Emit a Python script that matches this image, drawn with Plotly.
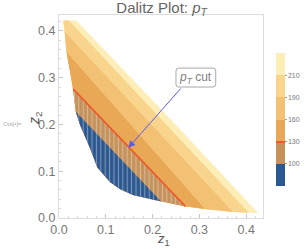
import plotly.graph_objects as go

# ---- data ----
# lower-left boundary of the Dalitz region (starts at the top-right corner of the flat top edge)
chain_z1 = [0.037, 0.009, 0.012, 0.016, 0.026, 0.030, 0.036, 0.045, 0.066, 0.082, 0.109, 0.130, 0.158, 0.216, 0.269, 0.312, 0.344, 0.372, 0.405, 0.426]
chain_z2 = [0.422, 0.422, 0.398, 0.355, 0.301, 0.276, 0.227, 0.199, 0.150, 0.108, 0.077, 0.062, 0.049, 0.036, 0.025, 0.019, 0.0156, 0.013, 0.011, 0.010]
# upper-right boundary (from bottom tip back to top-right corner)
edge_z1 = [0.426, 0.245, 0.037]
edge_z2 = [0.010, 0.204, 0.422]

# contour levels and two points on each (straight) contour line
levels = [100, 130, 160, 190, 210]
line_a_z1 = [0.036, 0.030, 0.016, 0.012, 0.021]
line_a_z2 = [0.227, 0.276, 0.355, 0.398, 0.422]
line_b_z1 = [0.216, 0.271, 0.312, 0.372, 0.405]
line_b_z2 = [0.038, 0.024, 0.019, 0.013, 0.012]

band_colors = ["#2c5891", "#c6925a", "#e9a855", "#f3c173", "#f8d48d", "#fdedb7"]
cut_color = "#ee5a2c"
tick_labels = ["100", "130", "160", "190", "210"]

# ---- helpers ----
def side(p, q, r):
    return (q[0]-p[0])*(r[1]-p[1]) - (q[1]-p[1])*(r[0]-p[0])

def below_polygon(p, q):
    pts = list(zip(chain_z1, chain_z2))
    s = [side(p, q, c) for c in pts]
    poly = []
    for i in range(len(pts)-1):
        a, b = pts[i], pts[i+1]
        if s[i] < 0:
            poly.append(a)
        if (s[i] >= 0) != (s[i+1] >= 0):
            t = s[i] / (s[i] - s[i+1])
            poly.append((a[0] + t*(b[0]-a[0]), a[1] + t*(b[1]-a[1])))
    if s[-1] < 0:
        poly.append(pts[-1])
    return poly

fig = go.Figure()

# full region in the top band colour
reg_x = chain_z1 + edge_z1[1:]
reg_y = chain_z2 + edge_z2[1:]
fig.add_trace(go.Scatter(x=reg_x, y=reg_y, fill="toself", mode="lines",
                         line=dict(width=0), fillcolor=band_colors[5], hoverinfo="skip", showlegend=False))

# successive "below level" regions from top down
polys = {}
for k in range(len(levels)-1, -1, -1):
    p = (line_a_z1[k], line_a_z2[k]); q = (line_b_z1[k], line_b_z2[k])
    poly = below_polygon(p, q)
    polys[k] = poly
    fig.add_trace(go.Scatter(x=[a for a, _ in poly], y=[b for _, b in poly], fill="toself", mode="lines",
                             line=dict(width=0), fillcolor=band_colors[k], hoverinfo="skip", showlegend=False))

# hatching of the cut region (below 130)
cut_poly = polys[1]
fig.add_trace(go.Scatter(x=[a for a, _ in cut_poly], y=[b for _, b in cut_poly], fill="toself", mode="lines",
                         line=dict(width=0), fillcolor="rgba(0,0,0,0)",
                         fillpattern=dict(shape="|", fgcolor="rgba(236,236,236,0.85)", bgcolor="rgba(0,0,0,0)",
                                          size=4.4, solidity=0.25),
                         hoverinfo="skip", showlegend=False))

# the pT cut line (130 contour)
fig.add_trace(go.Scatter(x=[cut_poly[0][0], cut_poly[-1][0]], y=[cut_poly[0][1], cut_poly[-1][1]],
                         mode="lines", line=dict(color=cut_color, width=1.6), hoverinfo="skip", showlegend=False))

# colour bar
n = len(band_colors)
cs = []
for i, c in enumerate(band_colors):
    lo, hi = i/n, (i+1)/n
    if i == 2:
        cs += [[lo, cut_color], [lo+0.008, cut_color], [lo+0.008, c], [hi, c]]
    elif i == 1:
        cs += [[lo, c], [hi-0.008, c], [hi-0.008, cut_color], [hi, cut_color]]
    else:
        cs += [[lo, c], [hi, c]]
fig.add_trace(go.Scatter(x=[None], y=[None], mode="markers", showlegend=False, hoverinfo="skip",
                         marker=dict(color=[0], cmin=0, cmax=n, colorscale=cs, showscale=True,
                                     colorbar=dict(x=1.064, xanchor="left", y=0.158, yanchor="bottom",
                                                   len=0.655, lenmode="fraction", thickness=9,
                                                   xpad=0, ypad=0, outlinewidth=0,
                                                   tickvals=list(range(1, n)), ticktext=tick_labels,
                                                   ticks="outside", ticklen=2, tickcolor="#999",
                                                   tickfont=dict(size=7, color="#777")))))

gray = "#777777"
axis_common = dict(showgrid=False, zeroline=False, showline=True, mirror=True, linecolor="#dcdcdc",
                   linewidth=1, ticks="inside", ticklen=4, tickcolor="#c8c8c8", dtick=0.1, tick0=0,
                   tickformat=".1f", tickfont=dict(size=12.5, color=gray), automargin=False,
                   minor=dict(ticks="inside", ticklen=2, tickcolor="#d8d8d8", dtick=0.02))

fig.update_layout(
    width=305, height=249, margin=dict(l=59, r=42, t=15, b=31, autoexpand=False),
    paper_bgcolor="white", plot_bgcolor="white",
    font=dict(family="Liberation Sans, Arial, sans-serif", color=gray),
    title=dict(text="Dalitz Plot: <i>p</i><sub><i>T</i></sub>", x=0.53, xanchor="center", y=0.99, yanchor="top",
               font=dict(size=15, color="#666")),
    xaxis=dict(range=[0, 0.436], **axis_common),
    yaxis=dict(range=[0, 0.434], **axis_common),
)

# axis titles
fig.add_annotation(x=0.51, y=-0.1527, xref="paper", yref="paper", showarrow=False, yanchor="bottom",
                   text="<i>z</i><sub>1</sub>", font=dict(size=13, color="#555"), borderpad=0)
fig.add_annotation(x=-0.166, y=0.488, xref="paper", yref="paper", showarrow=False, textangle=-90,
                   text="<i>z</i><sub>2</sub>", font=dict(size=14, color="#555"), borderpad=0)

# label box with rounded corners
bx0, bx1, by0, by1, r = 0.250, 0.335, 0.280, 0.3205, 0.006
path = (f"M {bx0+r},{by0} L {bx1-r},{by0} Q {bx1},{by0} {bx1},{by0+r} L {bx1},{by1-r} Q {bx1},{by1} {bx1-r},{by1} "
        f"L {bx0+r},{by1} Q {bx0},{by1} {bx0},{by1-r} L {bx0},{by0+r} Q {bx0},{by0} {bx0+r},{by0} Z")
fig.add_shape(type="path", path=path, xref="x", yref="y", line=dict(color="#a8a8a8", width=1), fillcolor="white")
fig.add_annotation(x=(bx0+bx1)/2, y=(by0+by1)/2, xref="x", yref="y", showarrow=False,
                   text="<i>p</i><sub><i>T</i></sub> cut", font=dict(size=12, color="#808080"))
fig.add_annotation(x=0.148, y=0.150, ax=0.263, ay=0.280, xref="x", yref="y", axref="x", ayref="y",
                   text="", showarrow=True, arrowcolor="#5a5af2", arrowwidth=1, arrowhead=2, arrowsize=1.4)

fig.add_annotation(x=-0.284, y=0.463, xref="paper", yref="paper", showarrow=False, xanchor="left",
                   text="Out[•]=", font=dict(size=6, color="#aaa"))

fig.write_html("out.html", config={"displayModeBar": False},
               post_script="document.body.style.margin='0';")
